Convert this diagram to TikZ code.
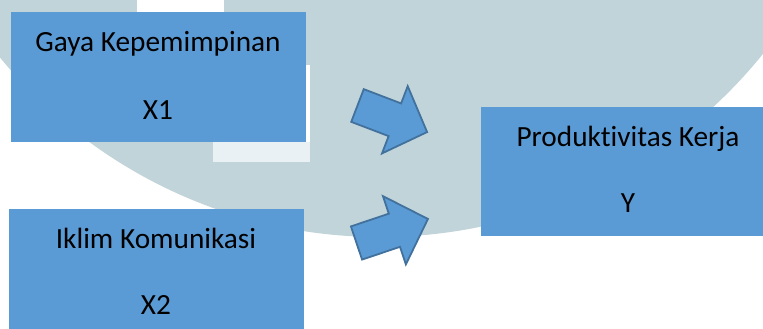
\documentclass[tikz,border=0pt]{standalone}
\usepackage{fontspec}
\setmainfont{Carlito}[Ligatures=NoCommon]
\definecolor{boxblue}{HTML}{5B9BD5}
\definecolor{arrowline}{HTML}{41719C}
\definecolor{wmgray}{HTML}{C1D4DA}
\definecolor{wmlight}{HTML}{E9F1F4}
\tikzset{
  box/.style={fill=boxblue, draw=none, inner sep=0pt},
  lbl/.style={anchor=base, inner sep=0pt, text=black, font=\fontsize{29.3pt}{35pt}\selectfont},
  blockarrow/.style={fill=boxblue, draw=arrowline, line width=1.8pt, line join=miter}
}
\begin{document}
\begin{tikzpicture}[x=1pt,y=-1pt]
\useasboundingbox (0,0) rectangle (763,329);
\clip (0,0) rectangle (763,329);
% background watermark
\fill[white] (0,0) rectangle (763,329);
\fill[wmgray] (380,-255) circle[radius=492pt];
\fill[white] (137,0) rectangle (224,12);
\fill[wmlight] (213,142) rectangle (310,162);
\fill[white] (306,65) rectangle (310,142);
% boxes
\node[box, minimum width=295pt, minimum height=130pt] (b1) at (158.5,77) {};
\node[box, minimum width=295pt, minimum height=130pt] (b2) at (156.5,274) {};
\node[box, minimum width=294pt, minimum height=129pt] (b3) at (628,171.5) {};
% labels
\node[lbl] (t1a) at (158,52) {Gaya Kepemimpinan};
\node[lbl] (t1b) at (158,119) {X1};
\node[lbl] (t2a) at (156,248) {Iklim Komunikasi};
\node[lbl] (t2b) at (156,314) {X2};
\node[lbl] (t3a) at (628,146) {Produktivitas Kerja};
\node[lbl] (t3b) at (628,212) {Y};
% block arrows
\begin{scope}[shift={(357.5,105.5)}, rotate=-20.9]
  \coordinate (a1tail) at (0,0);
  \draw[blockarrow] (0,17.5) -- (40,17.5) -- (40,36) -- (74.5,0) -- (40,-36) -- (40,-17.5) -- (0,-17.5) -- cycle;
\end{scope}
\begin{scope}[shift={(356.5,243)}, rotate=18.6]
  \coordinate (a2tail) at (0,0);
  \draw[blockarrow] (0,17.5) -- (40,17.5) -- (40,36) -- (75.4,0) -- (40,-36) -- (40,-17.5) -- (0,-17.5) -- cycle;
\end{scope}
\end{tikzpicture}
\end{document}
